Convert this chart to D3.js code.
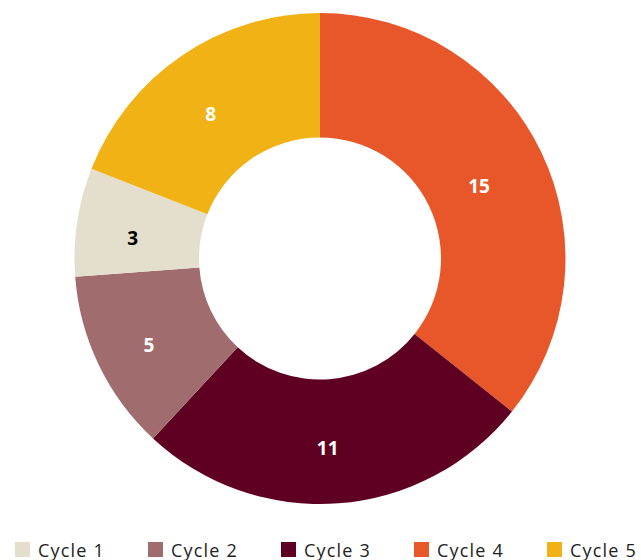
<!DOCTYPE html>
<html>
<head>
<meta charset="utf-8">
<script src="https://cdn.jsdelivr.net/npm/d3@7"></script>
<style>
  html, body { margin: 0; padding: 0; background: #fff; }
  svg { display: block; }
</style>
</head>
<body>
<svg id="chart" width="641" height="560"></svg>
<script>
'use strict'

// Data, in drawing order clockwise from 12 o'clock
var categories = ['Cycle 4', 'Cycle 3', 'Cycle 2', 'Cycle 1', 'Cycle 5']
var values = [15, 11, 5, 3, 8]
var legendOrder = ['Cycle 1', 'Cycle 2', 'Cycle 3', 'Cycle 4', 'Cycle 5']

var colors = {
  'Cycle 1': '#E4DFCD',
  'Cycle 2': '#A06C6E',
  'Cycle 3': '#5F0023',
  'Cycle 4': '#E8572A',
  'Cycle 5': '#F0B215'
}

var svg = d3.select('#chart')
var cx = 320
var cy = 258.5
var outerR = 245.5
var innerR = 121

var data = categories.map((c, i) => ({ name: c, value: values[i] }))

var pie = d3.pie()
  .sort(null)
  .value((d) => d.value)

var arc = d3.arc()
  .innerRadius(innerR)
  .outerRadius(outerR)

var labelArc = d3.arc()
  .innerRadius((innerR + outerR) / 2)
  .outerRadius((innerR + outerR) / 2)

var g = svg.append('g')
  .attr('transform', 'translate(' + cx + ',' + cy + ')')

var arcs = pie(data)

g.selectAll('path')
  .data(arcs)
  .enter().append('path')
    .attr('d', arc)
    .attr('fill', (d) => colors[d.data.name])

// labels hang from the slice centroid (top of the digits sits there)
g.selectAll('text')
  .data(arcs)
  .enter().append('text')
    .attr('transform', (d) => 'translate(' + labelArc.centroid(d) + ')')
    .attr('text-anchor', 'middle')
    .attr('dx', -6)
    .attr('dy', 14)
    .attr('font-family', 'Open Sans, sans-serif')
    .attr('font-weight', 700)
    .attr('font-size', 19)
    .attr('fill', (d) => d.data.name === 'Cycle 1' ? '#000' : '#fff')
    .text((d) => d.data.value)

// legend: square + label, laid out by measured text width
var legend = svg.append('g').attr('class', 'legend')
var x = 15
var gap = 43
legendOrder.forEach((name) => {
  var item = legend.append('g').attr('transform', 'translate(' + x + ',542)')
  item.append('rect')
    .attr('width', 15)
    .attr('height', 15)
    .attr('fill', colors[name])
  var t = item.append('text')
    .attr('x', 23)
    .attr('y', 15)
    .attr('font-family', 'Open Sans, sans-serif')
    .attr('font-size', 18)
    .attr('letter-spacing', 1.2)
    .attr('fill', '#222')
    .text(name)
  x += 23 + t.node().getComputedTextLength() + gap
})
</script>
</body>
</html>
